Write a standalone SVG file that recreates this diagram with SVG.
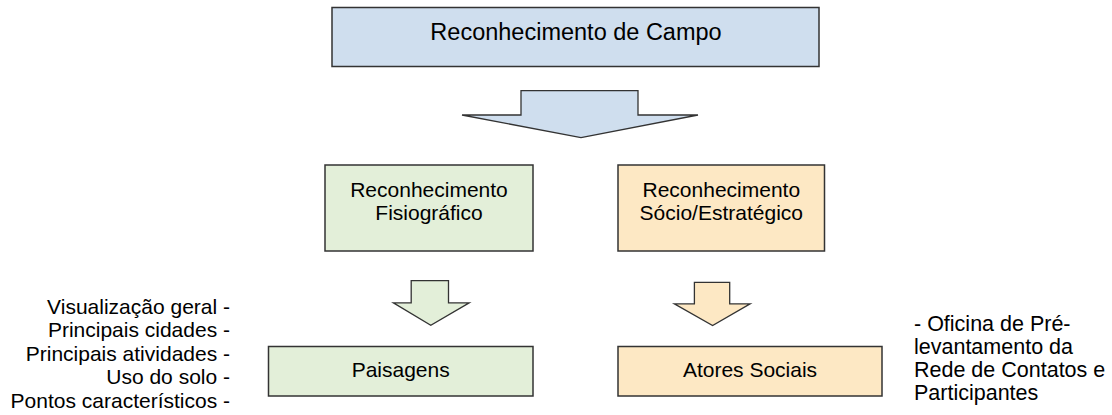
<svg xmlns="http://www.w3.org/2000/svg" width="1112" height="415" viewBox="0 0 1112 415">
<style>
.box{stroke:#333;stroke-width:1.5}
.blue{fill:#cfdeee}
.green{fill:#e3efd9}
.orange{fill:#fde8c4}
.arr{stroke:#333;stroke-width:1.3;stroke-linejoin:miter}
text{font-family:"Liberation Sans",Arial,sans-serif;fill:#000}
.big{font-size:23.5px}
.mid{font-size:21px}
.note{font-size:21.5px}
</style>
<rect width="1112" height="415" fill="#fff"/>
<g id="campo">
<rect class="box blue" x="332" y="7.5" width="487" height="59"/>
<text class="big" x="576" y="39.5" text-anchor="middle">Reconhecimento de Campo</text>
</g>
<g id="connectors">
<polygon class="arr blue" points="521,90.7 638,90.7 638,115 698,115 581,137.7 462,115 521,115"/>
<polygon class="arr green" points="411.2,280.7 448.5,280.7 448.5,302.9 469.2,302.9 430.8,325.2 393.4,302.9 411.2,302.9"/>
<polygon class="arr orange" points="694.4,282.3 729.7,282.3 729.7,303.9 750.1,303.9 712.6,325.5 674.4,303.9 694.4,303.9"/>
</g>
<g id="fisiografico">
<rect class="box green" x="325" y="165" width="208" height="86"/>
<text class="mid" x="429" y="197.3" text-anchor="middle">Reconhecimento</text>
<text class="mid" x="429" y="220" text-anchor="middle">Fisiográfico</text>
</g>
<g id="socio">
<rect class="box orange" x="618" y="165" width="206.5" height="86"/>
<text class="mid" x="721.3" y="197.3" text-anchor="middle">Reconhecimento</text>
<text class="mid" x="721.3" y="220" text-anchor="middle">Sócio/Estratégico</text>
</g>
<g id="paisagens">
<rect class="box green" x="268.5" y="346.5" width="264.5" height="49.5"/>
<text class="mid" x="400.7" y="377" text-anchor="middle">Paisagens</text>
</g>
<g id="atores">
<rect class="box orange" x="618" y="346.5" width="264" height="49.5"/>
<text class="mid" x="750" y="377" text-anchor="middle">Atores Sociais</text>
</g>
<g id="lista-fisio">
<text class="mid" x="230" y="313.5" text-anchor="end">Visualização geral -</text>
<text class="mid" x="230" y="337" text-anchor="end">Principais cidades -</text>
<text class="mid" x="230" y="360.5" text-anchor="end">Principais atividades -</text>
<text class="mid" x="230" y="384" text-anchor="end">Uso do solo -</text>
<text class="mid" x="230" y="407.5" text-anchor="end">Pontos característicos -</text>
</g>
<g id="lista-socio">
<text class="note" x="914" y="331">- Oficina de Pré-</text>
<text class="note" x="914" y="354">levantamento da</text>
<text class="note" x="914" y="377">Rede de Contatos e</text>
<text class="note" x="914" y="400">Participantes</text>
</g>
</svg>
